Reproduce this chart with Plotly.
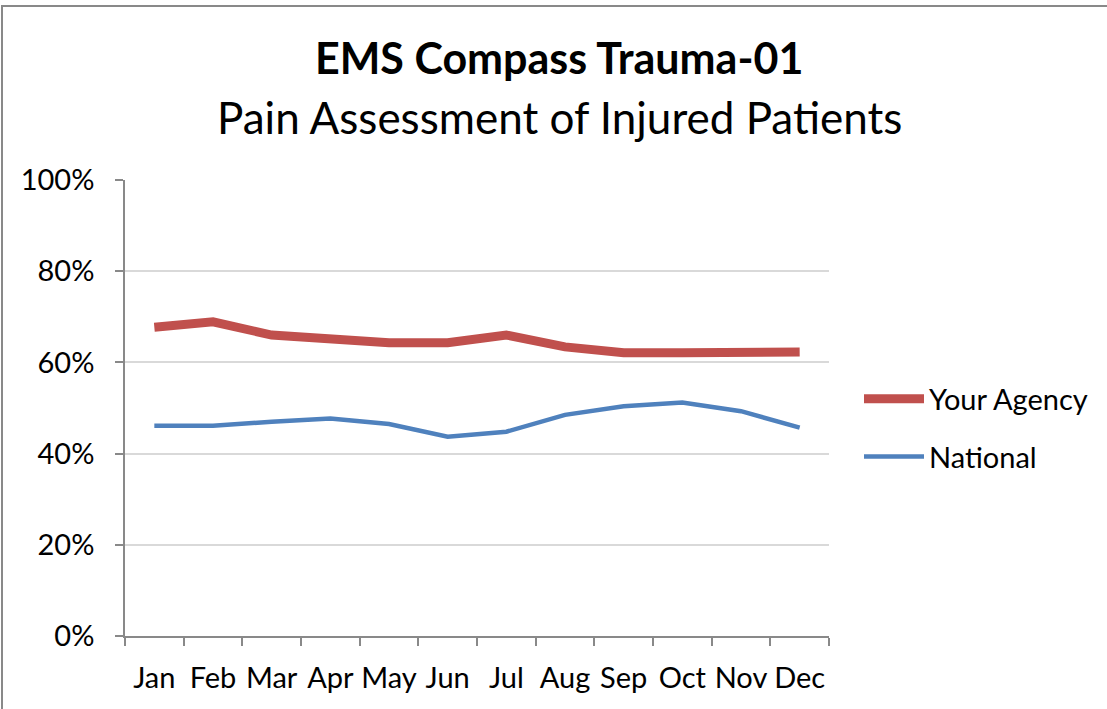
import plotly.graph_objects as go

months = ["Jan", "Feb", "Mar", "Apr", "May", "Jun", "Jul", "Aug", "Sep", "Oct", "Nov", "Dec"]
your_agency = [0.677, 0.689, 0.660, 0.651, 0.643, 0.643, 0.660, 0.634, 0.621, 0.621, 0.623, 0.623]
national = [0.461, 0.461, 0.470, 0.477, 0.465, 0.437, 0.448, 0.485, 0.504, 0.512, 0.493, 0.457]
y_ticks = [0, 0.2, 0.4, 0.6, 0.8, 1.0]
y_tick_labels = ["0%", "20%", "40%", "60%", "80%", "100%"]

W, H = 1107, 709
L, R, T, B = 125, 829, 180, 636
FONT = "Lato"

fig = go.Figure()
fig.add_trace(go.Scatter(x=months, y=your_agency, name="Your Agency", mode="lines",
                         legendgroup="a", line=dict(color="#c0504d", width=9)))
fig.add_trace(go.Scatter(x=months, y=national, name="National", mode="lines",
                         legendgroup="b", line=dict(color="#4f81bd", width=4.5)))

pw, ph = R - L, B - T
def px(x):
    return (x - L) / pw
def py(y):
    return (B - y) / ph

fig.update_layout(
    width=W, height=H,
    margin=dict(l=L, r=W - R, t=T, b=H - B, autoexpand=False),
    paper_bgcolor="white", plot_bgcolor="white",
    font=dict(family=FONT, color="#000000"),
    showlegend=True,
    legend=dict(x=px(859), y=py(428), xanchor="left", yanchor="middle",
                font=dict(size=29, family=FONT), bgcolor="rgba(0,0,0,0)",
                tracegroupgap=17, itemwidth=60),
    xaxis=dict(range=[-0.5, 11.5], showgrid=False, showline=True, linecolor="#898989",
               linewidth=1.5, ticks="outside", tickson="boundaries", ticklen=8,
               tickcolor="#898989", tickwidth=1.5, tickangle=0,
               tickfont=dict(size=29, family=FONT), ticklabelstandoff=15),
    yaxis=dict(range=[0, 1], tickvals=y_ticks, ticktext=y_tick_labels,
               showgrid=True, gridcolor="#d9d9d9", gridwidth=1.5,
               showline=True, linecolor="#898989", linewidth=1.5,
               ticks="outside", ticklen=8, tickcolor="#898989", tickwidth=1.5,
               tickfont=dict(size=29, family=FONT), ticklabelstandoff=15, zeroline=False),
    annotations=[
        dict(text="<b>EMS Compass Trauma-01</b>", x=px(559), y=py(57), xref="paper", yref="paper",
             showarrow=False, xanchor="center", yanchor="middle", font=dict(size=43, family=FONT)),
        dict(text="Pain Assessment of Injured Patients", x=px(559), y=py(117), xref="paper", yref="paper",
             showarrow=False, xanchor="center", yanchor="middle", font=dict(size=44, family=FONT)),
    ],
    shapes=[
        dict(type="rect", xref="paper", yref="paper", x0=px(2), x1=px(1112), y0=py(6), y1=py(714),
             line=dict(color="#898989", width=2), layer="below"),
    ],
)

fig.write_html("out.html", config={"displayModeBar": False},
               post_script="document.body.style.margin='0';")
